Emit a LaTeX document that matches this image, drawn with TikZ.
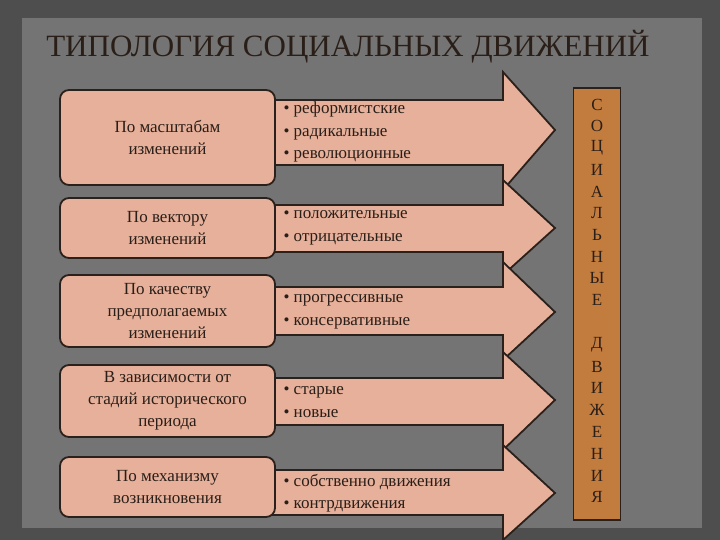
\documentclass[tikz,border=0pt]{standalone}
\usepackage{fontspec}
\setmainfont{Liberation Serif}
\begin{document}
\begin{tikzpicture}[x=1pt,y=-1pt,
  catbox/.style={draw=boxline,line width=1.8pt,fill=boxfill,rounded corners=9pt,align=center,font=\fontsize{17}{22}\selectfont,text=textcol},
  arrowshape/.style={draw=boxline,line width=1.8pt,fill=boxfill,line join=miter},
  itemtxt/.style={anchor=west,align=left,font=\fontsize{17}{22.5}\selectfont,text=textcol},
  letter/.style={font=\fontsize{17}{17}\selectfont,text=textcol}]
\definecolor{boxfill}{HTML}{E6B09A}
\definecolor{boxline}{HTML}{2B211C}
\definecolor{textcol}{HTML}{2A1E18}
\definecolor{bgdark}{HTML}{4E4E4E}
\definecolor{panel}{HTML}{747474}
\definecolor{sidefill}{HTML}{C27C3E}
\useasboundingbox (0,0) rectangle (720,540);
\fill[bgdark] (0,0) rectangle (720,540);
\fill[panel] (22,18) rectangle (702,528);
\node[font=\fontsize{31}{31}\selectfont,text=textcol] (title) at (348,47) {ТИПОЛОГИЯ СОЦИАЛЬНЫХ ДВИЖЕНИЙ};
% arrows
\foreach \n/\bt/\bb/\ht/\hb/\tipy in {a1/100/165/72/190/130, a2/205/252/180/275/228, a3/287/335/262/360/312, a4/378/425/352/450/400, a5/470/515/445/540/493}{
  \draw[arrowshape] (270,\bt) -- (503,\bt) -- (503,\ht) -- (555,\tipy) -- (503,\hb) -- (503,\bb) -- (270,\bb) -- cycle;
}
\node[itemtxt] (i1) at (280,132) {• реформистские\\• радикальные\\• революционные};
\node[itemtxt] (i2) at (280,228) {• положительные\\• отрицательные};
\node[itemtxt] (i3) at (280,312) {• прогрессивные\\• консервативные};
\node[itemtxt] (i4) at (280,402) {• старые\\• новые};
\node[itemtxt] (i5) at (280,493) {• собственно движения\\• контрдвижения};
% category boxes
\node[catbox,minimum width=215pt,minimum height=95pt] (b1) at (167.5,137.5) {По масштабам\\изменений};
\node[catbox,minimum width=215pt,minimum height=60pt] (b2) at (167.5,228) {По вектору\\изменений};
\node[catbox,minimum width=215pt,minimum height=72pt] (b3) at (167.5,311) {По качеству\\предполагаемых\\изменений};
\node[catbox,minimum width=215pt,minimum height=72pt] (b4) at (167.5,401) {В зависимости от\\стадий исторического\\периода};
\node[catbox,minimum width=215pt,minimum height=60pt] (b5) at (167.5,487) {По механизму\\возникновения};
% side box
\node[draw=boxline,line width=1.8pt,fill=sidefill,minimum width=47pt,minimum height=432pt] (side) at (597,304) {};
\foreach \L [count=\i] in {С,О,Ц,И,А,Л,Ь,Н,Ы,Е}{
  \node[letter] (s\i) at (597,{83+21.7*\i}) {\L};
}
\foreach \L [count=\i] in {Д,В,И,Ж,Е,Н,И,Я}{
  \node[letter] (d\i) at (597,{323+21.8*\i}) {\L};
}
\end{tikzpicture}
\end{document}
